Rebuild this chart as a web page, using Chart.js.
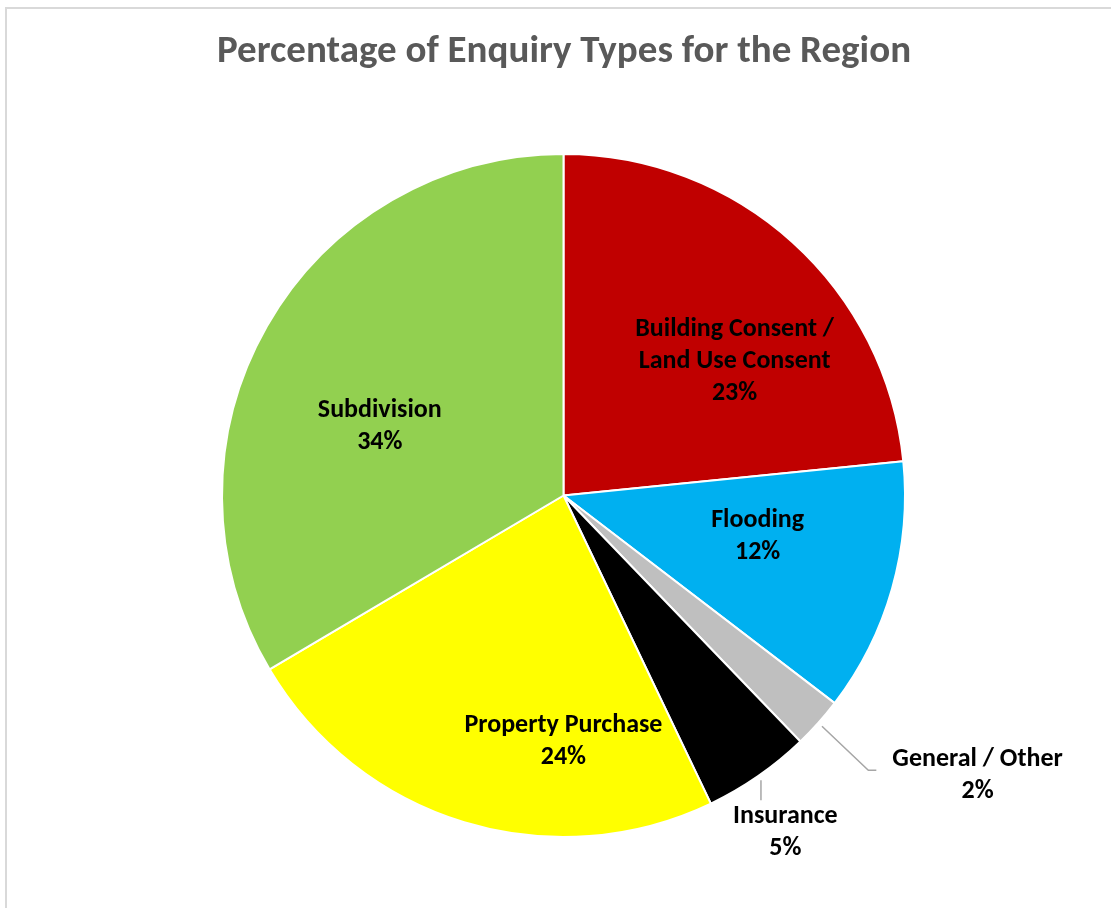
<!DOCTYPE html>
<html>
<head>
<title>Percentage of Enquiry Types for the Region</title>
<script src="https://cdn.jsdelivr.net/npm/chart.js@4.4.0/dist/chart.umd.min.js"></script>
<style>
	html, body { margin: 0; padding: 0; background: #fff; overflow: hidden; }
	#frame { position: absolute; left: 5px; top: 7px; width: 1200px; height: 1000px; border-left: 2px solid #d9d9d9; border-top: 2px solid #d9d9d9; }
	#wrap { position: absolute; left: 0; top: 0; width: 1111px; height: 908px; }
</style>
</head>
<body>
<div id="frame"></div>
<div id="wrap"><canvas id="myChart" width="1111" height="908"></canvas></div>
<script>
// data (clockwise from 12 o'clock)
const categories = ['Building Consent / Land Use Consent', 'Flooding', 'General / Other', 'Insurance', 'Property Purchase', 'Subdivision'];
const shares = [23.4, 12.0, 2.4, 5.1, 23.6, 33.5];
const sliceColors = ['#C00000', '#00B0F0', '#BFBFBF', '#000000', '#FFFF00', '#92D050'];
const labelLines = [['Building Consent /', 'Land Use Consent'], ['Flooding'], ['General / Other'], ['Insurance'], ['Property Purchase'], ['Subdivision']];

// where each data label sits: angle shift from slice middle (deg), distance as part of radius
const labelPlace = [
	{ da: 9.4, rf: 0.64 },
	{ da: -4.4, rf: 0.58 },
	{ da: -7.9, rf: 1.46, leader: 'elbow' },
	{ da: 1.2, rf: 1.176, leader: 'drop' },
	{ da: -16.9, rf: 0.715 },
	{ da: -8.5, rf: 0.577 }
];

const FONT = '"Carlito", "Lato", sans-serif';

const labelsPlugin = {
	id: 'pieLabels',
	afterDraw (chart) {
		const ctx = chart.ctx;
		ctx.save();
		// title
		ctx.fillStyle = '#595959';
		ctx.font = 'bold 39px ' + FONT;
		ctx.textAlign = 'center';
		ctx.textBaseline = 'middle';
		ctx.fillText('Percentage of Enquiry Types for the Region', 564, 52);

		const arcs = chart.getDatasetMeta(0).data;
		ctx.font = 'bold 26px ' + FONT;
		const lh = 32;
		arcs.forEach((arc, i) => {
			const p = arc.getProps(['x', 'y', 'startAngle', 'endAngle', 'outerRadius'], true);
			const mid = (p.startAngle + p.endAngle) / 2;
			const pl = labelPlace[i];
			const a = mid + pl.da * Math.PI / 180;
			const cx = p.x + Math.cos(a) * p.outerRadius * pl.rf;
			const cy = p.y + Math.sin(a) * p.outerRadius * pl.rf + 2;
			const lines = labelLines[i].concat([Math.round(shares[i]) + '%']);
			const top = cy - (lines.length - 1) * lh / 2;

			if (pl.leader) {
				const sx = p.x + Math.cos(mid) * (p.outerRadius + 5);
				const sy = p.y + Math.sin(mid) * (p.outerRadius + 5);
				ctx.strokeStyle = '#A6A6A6';
				ctx.lineWidth = 1.5;
				ctx.beginPath();
				ctx.moveTo(sx, sy);
				if (pl.leader == 'elbow') {
					const w = ctx.measureText(lines[0]).width;
					const ex = cx - w / 2 - 16;
					const ey = cy - 5;
					ctx.lineTo(ex - 8, ey);
					ctx.lineTo(ex, ey);
				} else {
					ctx.lineTo(sx, top - 16);
				}
				ctx.stroke();
			}

			ctx.fillStyle = '#000';
			lines.forEach((ln, k) => ctx.fillText(ln, cx, top + k * lh));
		});
		ctx.restore();
	}
};

var chart = new Chart(document.getElementById('myChart').getContext('2d'), {
	type: 'pie',
	data: {
		labels: categories,
		datasets: [{
			data: shares,
			backgroundColor: sliceColors,
			borderColor: '#ffffff',
			borderWidth: 2
		}]
	},
	options: {
		responsive: false,
		animation: false,
		layout: { padding: { left: 221, right: 205, top: 153, bottom: 70 } },
		plugins: {
			legend: { display: false },
			tooltip: { enabled: false }
		}
	},
	plugins: [labelsPlugin]
});
</script>
</body>
</html>
